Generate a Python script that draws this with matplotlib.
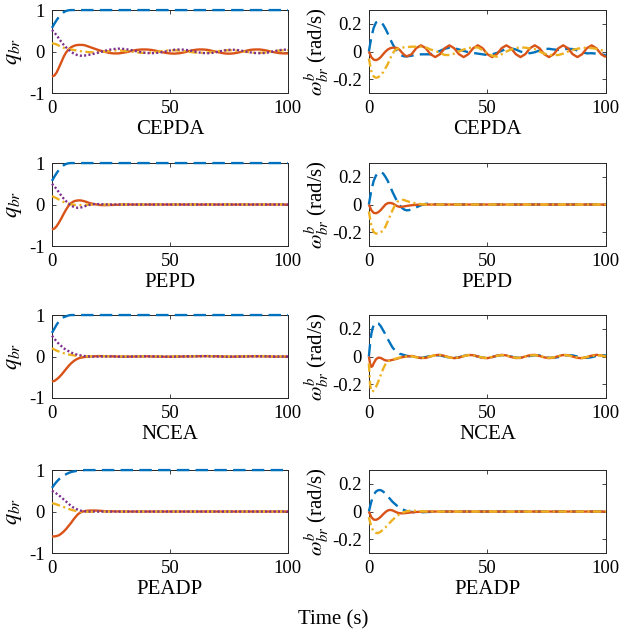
import matplotlib
matplotlib.use("Agg")
import matplotlib.pyplot as plt

plt.rcParams['font.family'] = ['Liberation Serif', 'DejaVu Serif']
plt.rcParams['mathtext.fontset'] = 'stix'
plt.rcParams['axes.unicode_minus'] = False
plt.rcParams['lines.scale_dashes'] = False

methods = ['CEPDA', 'PEPD', 'NCEA', 'PEADP']
x_ticks = [0, 50, 100]
x_tick_labels = ['0', '50', '100']
q_ticks = [-1, 0, 1]
q_tick_labels = ['-1', '0', '1']
w_ticks = [-0.2, 0, 0.2]
w_tick_labels = ['-0.2', '0', '0.2']

# time grids (s)
t_cepda = list(range(0, 17)) + list(range(18, 101, 2))
t_ncea_q = list(range(0, 17)) + [18, 20] + list(range(25, 101, 5))
t_ncea_w = [0, 0.5, 1, 1.5, 2] + list(range(3, 17)) + list(range(18, 101, 2))

# ---------------- CEPDA ----------------
cepda_q0_t = [0, 1, 2, 3, 4, 5, 6, 7, 8, 100]
cepda_q0 = [0.57, 0.67, 0.76, 0.84, 0.9, 0.95, 0.98, 0.995, 1.0, 1.0]
cepda_q1 = [-0.6, -0.58, -0.5, -0.38, -0.25, -0.12, -0.02, 0.05, 0.1, 0.13, 0.15, 0.16, 0.16, 0.16, 0.15, 0.13, 0.11,
            0.07, 0.03, 0.0, -0.03, -0.045, -0.045, -0.03, -0.01, 0.02, 0.04,
            0.05, 0.05, 0.04, 0.02, -0.005, -0.03, -0.045, -0.05, -0.04, -0.02,
            0.01, 0.035, 0.05, 0.05, 0.04, 0.015, -0.01, -0.035, -0.05, -0.05,
            -0.035, -0.01, 0.015, 0.04, 0.05, 0.05, 0.035, 0.01, -0.015, -0.035,
            -0.045, -0.045]
cepda_q2 = [0.2, 0.19, 0.17, 0.14, 0.11, 0.09, 0.07, 0.06, 0.05, 0.04, 0.03, 0.02, 0.01, 0.0, -0.005, -0.01, -0.015,
            -0.02, -0.015, -0.005, 0.01, 0.025, 0.03, 0.02, 0.01, -0.005, -0.02,
            -0.03, -0.03, -0.025, -0.01, 0.005, 0.02, 0.03, 0.03, 0.025, 0.01,
            -0.005, -0.02, -0.03, -0.03, -0.025, -0.01, 0.005, 0.02, 0.03, 0.03,
            0.025, 0.01, -0.005, -0.02, -0.03, -0.03, -0.025, -0.01, 0.005, 0.02,
            0.03, 0.03]
cepda_q3 = [0.52, 0.46, 0.39, 0.31, 0.23, 0.16, 0.1, 0.05, 0.0, -0.04, -0.07, -0.09, -0.1, -0.1, -0.095, -0.085, -0.075,
            -0.05, -0.02, 0.01, 0.04, 0.06, 0.07, 0.065, 0.05, 0.03, 0.005,
            -0.02, -0.035, -0.04, -0.035, -0.02, 0.0, 0.025, 0.045, 0.05, 0.045,
            0.03, 0.005, -0.02, -0.035, -0.04, -0.03, -0.01, 0.015, 0.035, 0.045,
            0.04, 0.025, 0.0, -0.02, -0.035, -0.04, -0.035, -0.02, 0.005, 0.03,
            0.045, 0.045]
cepda_w0 = [0.0, 0.1, 0.17, 0.21, 0.22, 0.215, 0.195, 0.165, 0.13, 0.09, 0.055, 0.025, 0.0, -0.02, -0.03, -0.035, -0.035,
            -0.03, -0.025, -0.02, -0.02, -0.02, -0.01, 0.005, 0.02, 0.028, 0.025,
            0.015, 0.005, -0.005, -0.01, -0.015, -0.02, -0.025, -0.02, -0.01, 0.005,
            0.02, 0.023, 0.015, 0.0, -0.01, -0.012, -0.005, 0.008, 0.018, 0.02,
            0.015, 0.012, 0.016, 0.02, 0.018, 0.008, -0.005, -0.013, -0.012, -0.015,
            -0.022, -0.025]
cepda_w1 = [0.0, -0.04, -0.058, -0.062, -0.055, -0.04, -0.02, 0.0, 0.015, 0.024, 0.028, 0.028, 0.025, 0.012, -0.008, -0.025, -0.035,
            -0.02, 0.025, 0.045, 0.024, -0.019, -0.04, -0.019, 0.024, 0.045, 0.024,
            -0.019, -0.04, -0.019, 0.024, 0.045, 0.024, -0.019, -0.04, -0.019, 0.024,
            0.045, 0.024, -0.019, -0.04, -0.019, 0.024, 0.045, 0.024, -0.019, -0.04,
            -0.019, 0.024, 0.045, 0.024, -0.019, -0.04, -0.019, 0.024, 0.045, 0.024,
            -0.019, -0.04]
cepda_w2 = [-0.05, -0.14, -0.18, -0.19, -0.185, -0.17, -0.15, -0.12, -0.09, -0.05, -0.015, 0.01, 0.02, 0.027, 0.03, 0.03, 0.032,
            0.035, 0.035, 0.035, 0.03, 0.015, 0.005, -0.01, -0.025, -0.025, -0.015,
            0.0, 0.015, 0.025, 0.03, 0.03, 0.01, -0.013, -0.03, -0.037, -0.02,
            0.0, 0.015, 0.025, 0.03, 0.028, 0.022, 0.018, 0.0, -0.015, -0.025,
            -0.025, -0.025, -0.015, 0.0, 0.012, 0.02, 0.027, 0.028, 0.025, 0.02,
            0.01, 0.0]

# ---------------- PEPD ----------------
pepd_q0_t = [0, 1, 2, 3, 4, 5, 6, 7, 8, 100]
pepd_q0 = [0.57, 0.67, 0.76, 0.84, 0.9, 0.95, 0.98, 0.995, 1.0, 1.0]
pepd_q1_t = [0, 1, 2, 3, 4, 5, 6, 7, 8, 9, 10, 11, 12, 13, 14, 15, 16, 18, 20, 22, 24, 26, 28, 30, 100]
pepd_q1 = [-0.6, -0.58, -0.52, -0.43, -0.33, -0.22, -0.12, -0.03, 0.03, 0.07, 0.09, 0.1, 0.1, 0.09, 0.075, 0.055,
           0.035, 0.01, -0.01, -0.015, -0.012, -0.008, -0.004, 0.0, 0.0]
pepd_q2_t = [0, 1, 2, 3, 4, 5, 6, 7, 8, 9, 10, 12, 14, 16, 18, 20, 25, 100]
pepd_q2 = [0.2, 0.18, 0.15, 0.12, 0.09, 0.06, 0.04, 0.02, 0.005, -0.005, -0.01, -0.012, -0.008, -0.004, 0.0, 0.0, 0.0, 0.0]
pepd_q3_t = [0, 1, 2, 3, 4, 5, 6, 7, 8, 9, 10, 11, 12, 13, 14, 15, 16, 18, 20, 22, 25, 100]
pepd_q3 = [0.5, 0.44, 0.37, 0.29, 0.21, 0.14, 0.08, 0.03, -0.02, -0.05, -0.07, -0.08, -0.075, -0.06, -0.04, -0.02,
           -0.005, 0.01, 0.01, 0.005, 0.0, 0.0]
pepd_w0_t = [0, 1, 2, 3, 4, 5, 6, 7, 8, 9, 10, 11, 12, 13, 14, 15, 16, 17, 18, 20, 22, 24, 26, 30, 100]
pepd_w0 = [0.0, 0.1, 0.17, 0.21, 0.23, 0.235, 0.225, 0.2, 0.17, 0.13, 0.09, 0.055, 0.02, -0.005, -0.025, -0.037,
           -0.042, -0.04, -0.035, -0.02, -0.005, 0.005, 0.005, 0.0, 0.0]
pepd_w1_t = [0, 1, 2, 3, 4, 5, 6, 7, 8, 9, 10, 11, 12, 13, 14, 16, 18, 20, 22, 25, 100]
pepd_w1 = [0.0, -0.04, -0.06, -0.063, -0.055, -0.04, -0.02, 0.0, 0.01, 0.012, 0.008, -0.002, -0.012, -0.017,
           -0.016, -0.01, -0.005, -0.002, 0.0, 0.0, 0.0]
pepd_w2_t = [0, 1, 2, 3, 4, 5, 6, 7, 8, 9, 10, 11, 12, 13, 14, 15, 16, 18, 20, 22, 25, 100]
pepd_w2 = [-0.05, -0.15, -0.2, -0.21, -0.21, -0.2, -0.19, -0.16, -0.12, -0.08, -0.04, -0.005, 0.02, 0.03, 0.034,
           0.032, 0.025, 0.015, 0.008, 0.003, 0.0, 0.0]

# ---------------- NCEA ----------------
ncea_q0_t = [0, 1, 2, 3, 4, 5, 6, 7, 8, 100]
ncea_q0 = [0.57, 0.67, 0.77, 0.85, 0.91, 0.95, 0.97, 0.99, 1.0, 1.0]
ncea_q1 = [-0.6, -0.59, -0.55, -0.5, -0.44, -0.37, -0.3, -0.23, -0.17, -0.12, -0.08, -0.05, -0.03, -0.02, -0.01, -0.005, 0.0,
           0.005, 0.01,
           0.005, -0.005, 0.0, 0.005, -0.005, -0.005, 0.0, 0.005, 0.01, 0.005, -0.005, 0.0, 0.005, 0.005, -0.005, 0.0]
ncea_q2 = [0.2, 0.17, 0.14, 0.12, 0.1, 0.08, 0.065, 0.05, 0.04, 0.03, 0.02, 0.015, 0.01, 0.008, 0.006, 0.005, 0.005,
           0.01, 0.012,
           0.005, 0.0, 0.005, 0.01, 0.005, 0.0, 0.005, 0.01, 0.012, 0.005, 0.0, 0.008, 0.012, 0.01, 0.0, 0.0]
ncea_q3 = [0.5, 0.43, 0.36, 0.3, 0.25, 0.2, 0.16, 0.13, 0.1, 0.075, 0.055, 0.04, 0.028, 0.018, 0.01, 0.005, 0.0,
           -0.003, 0.0,
           0.003, -0.005, 0.0, 0.005, 0.0, -0.005, 0.0, 0.005, 0.008, 0.002, -0.005, 0.0, 0.005, 0.005, -0.003, 0.0]
ncea_w0 = [0.0, 0.09, 0.16, 0.2, 0.225,
           0.245, 0.24, 0.22, 0.19, 0.16, 0.125, 0.095, 0.065, 0.045, 0.03, 0.02, 0.015, 0.01, 0.005,
           0.0, -0.008, -0.01, -0.004, 0.005, 0.009, 0.008, 0.0, -0.008, -0.01, -0.005, 0.004,
           0.009, 0.008, 0.0, -0.009, -0.01, -0.004, 0.005, 0.01, 0.008, 0.0, -0.008, -0.01,
           -0.005, 0.004, 0.009, 0.008, 0.0, -0.009, -0.01, -0.004, 0.005, 0.01, 0.008, 0.0,
           -0.008, -0.01, -0.005, 0.004, 0.009, 0.008]
ncea_w1 = [0.0, -0.05, -0.075, -0.07, -0.05,
           -0.02, -0.008, -0.01, -0.02, -0.028, -0.03, -0.028, -0.024, -0.02, -0.015, -0.01, -0.005, -0.002, 0.0,
           0.004, -0.004, -0.011, -0.01, 0.0, 0.01, 0.012, 0.004, -0.006, -0.012, -0.008, 0.003,
           0.011, 0.01, 0.0, -0.01, -0.012, -0.004, 0.006, 0.012, 0.008, -0.003, -0.011, -0.01,
           0.0, 0.01, 0.012, 0.004, -0.006, -0.012, -0.008, 0.003, 0.011, 0.01, 0.0, -0.01,
           -0.012, -0.004, 0.006, 0.012, 0.008, 0.0]
ncea_w2 = [-0.05, -0.2, -0.25, -0.255, -0.245,
           -0.22, -0.18, -0.135, -0.09, -0.055, -0.035, -0.028, -0.022, -0.017, -0.012, -0.008, -0.004, -0.001, 0.0,
           0.002, -0.006, -0.01, -0.007, 0.002, 0.009, 0.01, 0.002, -0.007, -0.01, -0.006, 0.003,
           0.01, 0.008, 0.0, -0.008, -0.01, -0.004, 0.005, 0.01, 0.007, -0.002, -0.009, -0.009,
           0.0, 0.008, 0.01, 0.004, -0.005, -0.01, -0.007, 0.002, 0.009, 0.009, 0.0, -0.008,
           -0.01, -0.004, 0.005, 0.01, 0.007, 0.0]

# ---------------- PEADP ----------------
peadp_q0_t = [0, 1, 2, 3, 4, 5, 6, 7, 8, 9, 10, 11, 12, 13, 14, 100]
peadp_q0 = [0.57, 0.65, 0.72, 0.78, 0.83, 0.87, 0.9, 0.93, 0.95, 0.965, 0.975, 0.985, 0.99, 0.995, 1.0, 1.0]
peadp_q1_t = [0, 1, 2, 3, 4, 5, 6, 7, 8, 9, 10, 11, 12, 13, 14, 15, 16, 18, 20, 22, 25, 30, 100]
peadp_q1 = [-0.6, -0.6, -0.59, -0.57, -0.53, -0.48, -0.42, -0.35, -0.28, -0.2, -0.13, -0.065, -0.025, 0.0, 0.012,
            0.02, 0.025, 0.025, 0.02, 0.01, 0.005, 0.0, 0.0]
peadp_q2_t = [0, 1, 2, 3, 4, 5, 6, 7, 8, 9, 10, 11, 12, 13, 14, 16, 18, 20, 25, 100]
peadp_q2 = [0.2, 0.19, 0.17, 0.15, 0.13, 0.11, 0.09, 0.065, 0.045, 0.03, 0.015, 0.005, -0.003, -0.006, -0.007,
            -0.006, -0.004, -0.002, 0.0, 0.0]
peadp_q3_t = [0, 1, 2, 3, 4, 5, 6, 7, 8, 9, 10, 11, 12, 13, 14, 15, 16, 18, 20, 25, 100]
peadp_q3 = [0.5, 0.47, 0.43, 0.39, 0.34, 0.29, 0.24, 0.19, 0.14, 0.1, 0.07, 0.045, 0.025, 0.012, 0.005, 0.001,
            0.0, 0.0, 0.0, 0.0, 0.0]
peadp_w0_t = [0, 1, 2, 3, 4, 5, 6, 7, 8, 9, 10, 11, 12, 13, 14, 15, 16, 17, 18, 20, 22, 25, 30, 100]
peadp_w0 = [0.0, 0.07, 0.12, 0.145, 0.155, 0.155, 0.145, 0.13, 0.11, 0.09, 0.07, 0.055, 0.04, 0.028, 0.018, 0.01,
            0.004, 0.0, -0.003, -0.005, -0.005, -0.003, 0.0, 0.0]
peadp_w1_t = [0, 1, 2, 3, 4, 5, 6, 7, 8, 9, 10, 11, 12, 13, 14, 15, 16, 18, 20, 22, 25, 100]
peadp_w1 = [0.0, -0.04, -0.058, -0.06, -0.052, -0.038, -0.02, -0.004, 0.008, 0.012, 0.008, 0.0, -0.008, -0.012,
            -0.013, -0.012, -0.01, -0.006, -0.003, -0.001, 0.0, 0.0]
peadp_w2_t = [0, 1, 2, 3, 4, 5, 6, 7, 8, 9, 10, 11, 12, 13, 14, 15, 16, 18, 20, 22, 25, 100]
peadp_w2 = [-0.04, -0.11, -0.145, -0.155, -0.155, -0.145, -0.13, -0.115, -0.095, -0.078, -0.06, -0.045, -0.03,
            -0.018, -0.01, -0.003, 0.002, 0.007, 0.005, 0.002, 0.0, 0.0]

# series tables: (time, values) in plotting order
q_series = [
    [(cepda_q0_t, cepda_q0), (t_cepda, cepda_q1), (t_cepda, cepda_q2), (t_cepda, cepda_q3)],
    [(pepd_q0_t, pepd_q0), (pepd_q1_t, pepd_q1), (pepd_q2_t, pepd_q2), (pepd_q3_t, pepd_q3)],
    [(ncea_q0_t, ncea_q0), (t_ncea_q, ncea_q1), (t_ncea_q, ncea_q2), (t_ncea_q, ncea_q3)],
    [(peadp_q0_t, peadp_q0), (peadp_q1_t, peadp_q1), (peadp_q2_t, peadp_q2), (peadp_q3_t, peadp_q3)],
]
w_series = [
    [(t_cepda, cepda_w0), (t_cepda, cepda_w1), (t_cepda, cepda_w2)],
    [(pepd_w0_t, pepd_w0), (pepd_w1_t, pepd_w1), (pepd_w2_t, pepd_w2)],
    [(t_ncea_w, ncea_w0), (t_ncea_w, ncea_w1), (t_ncea_w, ncea_w2)],
    [(peadp_w0_t, peadp_w0), (peadp_w1_t, peadp_w1), (peadp_w2_t, peadp_w2)],
]

colors = ['#0072BD', '#D95319', '#EDB120', '#7E2F8E']
dash_styles = [(0, (9, 4.5)), '-', (0, (6, 2.5, 1.5, 2.5)), (0, (1.5, 1.6))]
lw = 1.7

fig = plt.figure(figsize=(6.21, 6.38), dpi=100)

row_bottoms = [0.8542, 0.6144, 0.3762, 0.1332]
h = 0.130

def style_axes(ax, ylim, yticks, yticklabels, xlabel):
    ax.set_xlim(0, 100)
    ax.set_ylim(*ylim)
    ax.set_xticks(x_ticks)
    ax.set_xticklabels(x_tick_labels)
    ax.set_yticks(yticks)
    ax.set_yticklabels(yticklabels)
    ax.tick_params(direction='in', top=True, right=True, length=3, width=0.6,
                   labelsize=13.5, color='#262626', pad=5)
    for s in ax.spines.values():
        s.set_color('#262626')
        s.set_linewidth(0.7)
    ax.set_xlabel(xlabel, fontsize=15, labelpad=2)

for i, name in enumerate(methods):
    axl = fig.add_axes([0.0837, row_bottoms[i], 0.380, h])
    for k, (tt, vv) in enumerate(q_series[i]):
        axl.plot(tt, vv, color=colors[k], linestyle=dash_styles[k], lw=lw,
                 dash_capstyle='butt', solid_capstyle='butt', clip_on=False, zorder=3)
    style_axes(axl, (-1, 1), q_ticks, q_tick_labels, name)
    axl.set_ylabel(r'$q_{br}$', fontsize=16, labelpad=4)

    axr = fig.add_axes([0.594, row_bottoms[i], 0.3816, h])
    for k, (tt, vv) in enumerate(w_series[i]):
        axr.plot(tt, vv, color=colors[k], linestyle=dash_styles[k], lw=lw,
                 dash_capstyle='butt', solid_capstyle='butt', clip_on=False, zorder=3)
    style_axes(axr, (-0.3, 0.3), w_ticks, w_tick_labels, name)
    axr.set_ylabel(r'$\omega_{br}^{b}$ (rad/s)', fontsize=15, labelpad=1)

fig.text(0.536, 0.028, 'Time (s)', ha='center', va='center', fontsize=15)

fig.savefig('out.png', dpi=100)
